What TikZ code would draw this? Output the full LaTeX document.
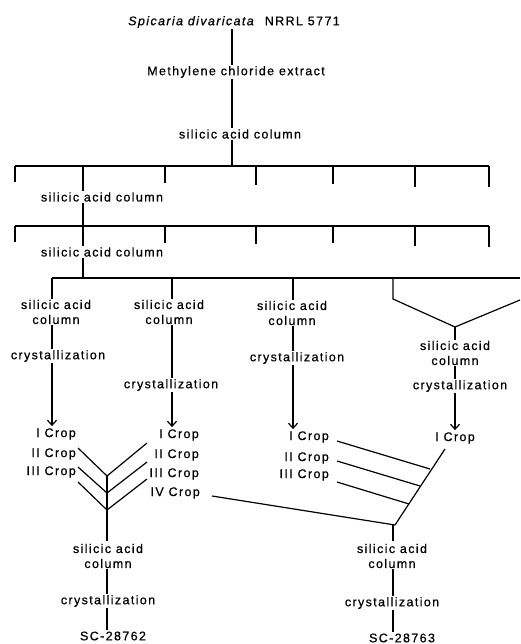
\documentclass[tikz,border=0pt]{standalone}
\usepackage{fontspec}
\setmainfont{Liberation Sans}[LetterSpace=11,FakeBold=0.6]
\usetikzlibrary{arrows.meta}
\begin{document}
\begin{tikzpicture}[x=1pt,y=-1pt,
  lab/.style={font=\fontsize{12.5}{15}\selectfont, inner sep=1pt, align=center},
  ln/.style={line width=1.2pt},
  arr/.style={ln,-{Straight Barb[length=5pt,width=9pt]}},
]
\useasboundingbox[fill=white] (0,0) rectangle (520,644);
% top chain
\node[lab] (title) at (234,22) {\textit{Spicaria divaricata}\ \ NRRL 5771};
\node[lab] (meth) at (236,72) {Methylene chloride extract};
\node[lab] (sac1) at (240,134) {silicic acid column};
\coordinate (sx) at (232,0);
\draw[ln] (title.south -| sx) -- (meth.north -| sx);
\draw[ln] (meth.south -| sx) -- (sac1.north -| sx);
% bar 1
\coordinate (b1L) at (15,166);
\coordinate (b1R) at (489,166);
\coordinate (b1c) at (232,166);
\draw[ln] (sac1.south -| sx) -- (b1c);
\draw[ln] (b1L) -- (b1R);
\node[lab] (sac2) at (102,197) {silicic acid column};
\coordinate (s2x) at (83,0);
\draw[ln] (b1L) -- ++(0,16);
\draw[ln] (b1L -| s2x) -- (sac2.north -| s2x);
\foreach \xx/\ll in {165/17,256/19,333/18,415/21,489/21}
  \draw[ln] (\xx,166) coordinate (t1\xx) -- ++(0,\ll);
% bar 2
\coordinate (b2L) at (15,226);
\coordinate (b2R) at (489,226);
\draw[ln] (sac2.south -| s2x) -- (b2L -| s2x);
\draw[ln] (b2L) -- (b2R);
\node[lab] (sac3) at (102,252) {silicic acid column};
\draw[ln] (b2L) -- ++(0,16);
\draw[ln] (b2L -| s2x) -- (sac3.north -| s2x);
\foreach \xx/\ll in {165/17,256/18,333/17,415/20,489/21}
  \draw[ln] (\xx,226) coordinate (t2\xx) -- ++(0,\ll);
% bar 3
\coordinate (b3L) at (52,278);
\coordinate (b3R) at (520,278);
\draw[ln] (sac3.south -| s2x) -- (b3L -| s2x);
\draw[ln] (b3L) -- (b3R);
% column nodes
\node[lab] (c1s) at (56,312) {silicic acid\\column};
\node[lab] (c1c) at (58,356) {crystallization};
\node[lab] (c2s) at (169,312) {silicic acid\\column};
\node[lab] (c2c) at (171,385) {crystallization};
\node[lab] (c3s) at (292,313) {silicic acid\\column};
\node[lab] (c3c) at (297,358) {crystallization};
\node[lab] (c4s) at (455,353) {silicic acid\\column};
\node[lab] (c4c) at (460,386) {crystallization};
\coordinate (x1) at (52,0);
\coordinate (x2) at (172,0);
\coordinate (x3) at (293,0);
\coordinate (x4) at (455,0);
\draw[ln] (b3L) -- (c1s.north -| x1);
\draw[ln] (b3L -| x2) -- (c2s.north -| x2);
\draw[ln] (b3L -| x3) -- (c3s.north -| x3);
\coordinate (v1) at (393,278);
\coordinate (v2) at (393,299);
\coordinate (v3) at (455,327);
\coordinate (v4) at (520,300);
\draw[ln] (v1) -- (v2) -- (v3) -- (v4);
\draw[ln] (v3) -- (c4s.north -| x4);
\draw[ln] (c1s.south -| x1) -- (c1c.north -| x1);
\draw[ln] (c2s.south -| x2) -- (c2c.north -| x2);
\draw[ln] (c3s.south -| x3) -- (c3c.north -| x3);
\draw[ln] (c4s.south -| x4) -- (c4c.north -| x4);
% crops
\node[lab,anchor=east] (a1) at (77,434) {I Crop};
\node[lab,anchor=east] (a2) at (77,454) {II Crop};
\node[lab,anchor=east] (a3) at (77,472) {III Crop};
\node[lab,anchor=east] (b1) at (200,435) {I Crop};
\node[lab,anchor=east] (b2) at (200,455) {II Crop};
\node[lab,anchor=east] (b3) at (200,474) {III Crop};
\node[lab,anchor=east] (b4) at (201,493) {IV Crop};
\node[lab,anchor=east] (d1) at (330,437) {I Crop};
\node[lab,anchor=east] (d2) at (330,458) {II Crop};
\node[lab,anchor=east] (d3) at (330,475) {III Crop};
\node[lab] (e1) at (455,438) {I Crop};
\draw[arr] (c1c.south -| x1) -- ([yshift=1pt]a1.north -| x1);
\draw[arr] (c2c.south -| x2) -- ([yshift=1pt]b1.north -| x2);
\draw[arr] (c3c.south -| x3) -- ([yshift=1pt]d1.north -| x3);
\draw[arr] (c4c.south -| x4) -- ([yshift=1pt]e1.north -| x4);
% bottom left chevron
\node[lab] (bs1) at (108,556) {silicic acid\\column};
\node[lab] (bc1) at (108,601) {crystallization};
\node[lab] (sc1) at (113,636) {SC-28762};
\coordinate (bx1) at (107,0);
\coordinate (j1) at (107,476);
\coordinate (j2) at (107,493);
\coordinate (j3) at (107,510);
\coordinate (l1) at (78,448);
\coordinate (l2) at (78,467);
\coordinate (l3) at (78,482);
\coordinate (r1) at (147,443);
\coordinate (r2) at (147,462);
\coordinate (r3) at (147,479);
\draw[ln] (l1) -- (j1) -- (r1);
\draw[ln] (l2) -- (j2) -- (r2);
\draw[ln] (l3) -- (j3) -- (r3);
\draw[ln] (j1) -- ([yshift=2pt]bs1.north -| bx1);
\draw[ln] (bs1.south -| bx1) -- (bc1.north -| bx1);
\draw[ln] (bc1.south -| bx1) -- (sc1.north -| bx1);
% bottom right spine
\node[lab] (bs2) at (392,556) {silicic acid\\column};
\node[lab] (bc2) at (392,603) {crystallization};
\node[lab] (sc2) at (402,638) {SC-28763};
\coordinate (bx2) at (393,0);
\coordinate (sp1) at (445,449);
\coordinate (sp2) at (395,525);
\coordinate (sp3) at (393,525);
\coordinate (k1) at (430,469);
\coordinate (k2) at (420,486);
\coordinate (k3) at (409,504);
\draw[ln] (sp1) -- (sp2);
\draw[ln] (sp3) -- ([yshift=2pt]bs2.north -| bx2);
\draw[ln] ([shift={(7,4)}]d1.east) -- (k1);
\draw[ln] ([shift={(7,3)}]d2.east) -- (k2);
\draw[ln] ([shift={(7,7)}]d3.east) -- (k3);
\draw[ln] ([shift={(11,3)}]b4.east) -- (sp2);
\draw[ln] (bs2.south -| bx2) -- (bc2.north -| bx2);
\draw[ln] (bc2.south -| bx2) -- (sc2.north -| bx2);
\end{tikzpicture}
\end{document}
